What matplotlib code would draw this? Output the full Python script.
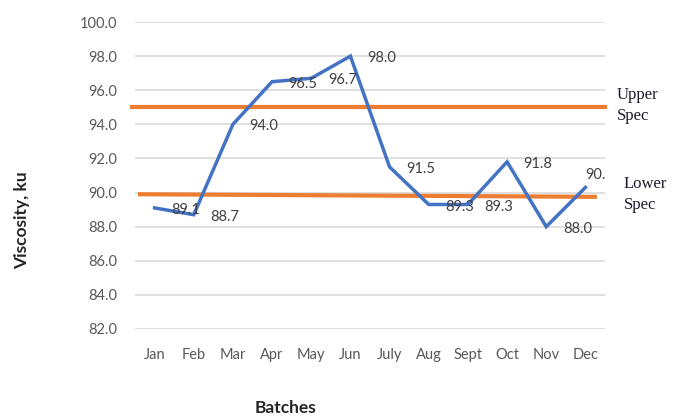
import matplotlib
matplotlib.use("Agg")
import matplotlib.pyplot as plt

months = ["Jan", "Feb", "Mar", "Apr", "May", "Jun", "July", "Aug", "Sept", "Oct", "Nov", "Dec"]
viscosity = [89.1, 88.7, 94.0, 96.5, 96.7, 98.0, 91.5, 89.3, 89.3, 91.8, 88.0, 90.3]
upper_spec = 95.0
lower_spec = [89.9, 89.75]
y_ticks = [82.0, 84.0, 86.0, 88.0, 90.0, 92.0, 94.0, 96.0, 98.0, 100.0]

plt.rcParams['font.family'] = ['Lato', 'DejaVu Sans']

fig = plt.figure(figsize=(6.73, 4.16), dpi=100)
ax = fig.add_axes([135/673, (416-329)/416, 470/673, 307/416])

x = list(range(len(months)))
ax.set_xlim(-0.5, len(months) - 0.5)
ax.set_ylim(82, 100)
ax.set_yticks(y_ticks)
ax.set_yticklabels([f"{v:.1f}" for v in y_ticks], color="#595959", fontsize=10.5)
ax.set_xticks(x)
ax.set_xticklabels(months, color="#595959", fontsize=10.5)
ax.tick_params(length=0)
ax.tick_params(axis='y', pad=13)
ax.tick_params(axis='x', pad=14)
ax.grid(axis='y', color="#d9d9d9", linewidth=1.2)
ax.set_axisbelow(True)
for s in ax.spines.values():
    s.set_visible(False)

# spec lines
ax.plot([-0.58, 11.5], [upper_spec, upper_spec], color="#ED7D31", linewidth=3, clip_on=False, zorder=3)
ax.plot([-0.37, 11.24], lower_spec, color="#ED7D31", linewidth=3, clip_on=False, zorder=3)

ax.plot(x, viscosity, color="#4472C4", linewidth=2.5, zorder=4, solid_joinstyle='miter')

offsets = {11: (0, 9)}
for i, v in enumerate(viscosity):
    dx, dy = offsets.get(i, (12, -1.5))
    t = ax.annotate(f"{v:.1f}", (i, v), xytext=(dx, dy), textcoords="offset points",
                    ha="left", va="center", fontsize=10.5, color="#404040", zorder=5,
                    annotation_clip=False)
    t.set_clip_on(True)
    t.set_clip_box(ax.bbox)

ax.set_ylabel("Viscosity, ku", fontsize=12.5, fontweight="bold", color="#262626", va="center")
ax.yaxis.set_label_coords((22 - 135) / 470, (329 - 220) / 307)
ax.set_xlabel("Batches", fontsize=12.5, fontweight="bold", color="#262626", va="center")
ax.xaxis.set_label_coords((285 - 135) / 470, (329 - 408) / 307)

spec_color = "#1a1a2e"
fig.text(617/673, 1 - 95/416, "Upper", family="Liberation Serif", fontsize=12, color=spec_color, va="center")
fig.text(617/673, 1 - 116/416, "Spec", family="Liberation Serif", fontsize=12, color=spec_color, va="center")
fig.text(624/673, 1 - 184/416, "Lower", family="Liberation Serif", fontsize=12, color=spec_color, va="center")
fig.text(624/673, 1 - 205/416, "Spec", family="Liberation Serif", fontsize=12, color=spec_color, va="center")

fig.savefig("out.png", dpi=100)
